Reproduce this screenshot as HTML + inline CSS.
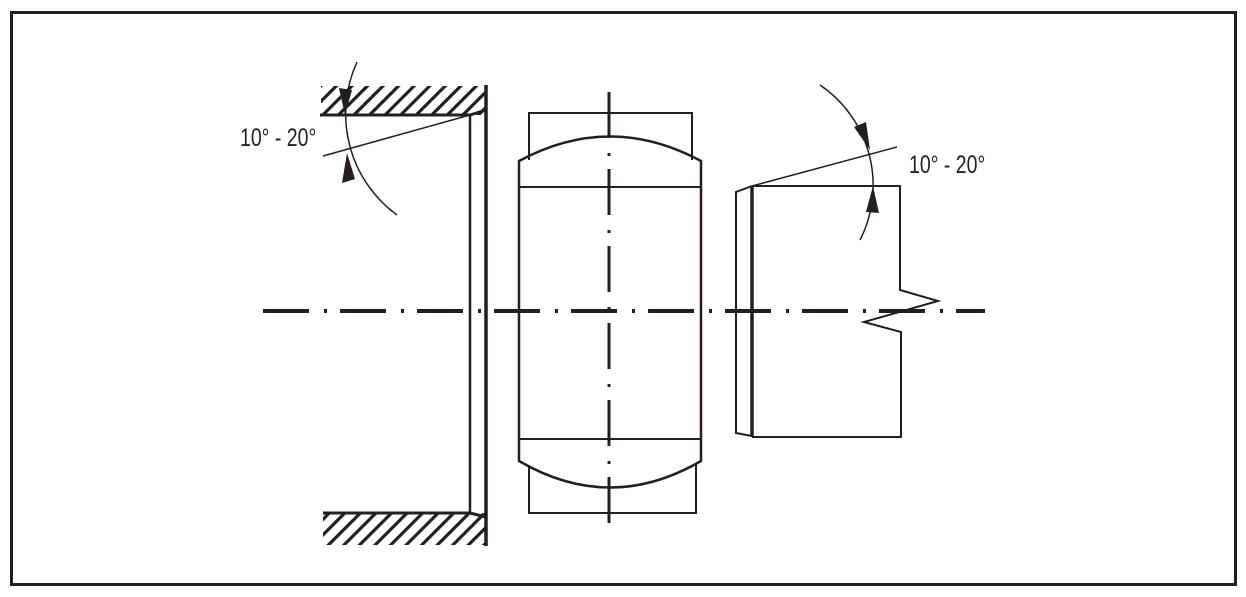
<!DOCTYPE html>
<html><head><meta charset="utf-8"><style>html,body{margin:0;padding:0;background:#fff}svg{display:block}</style></head>
<body>
<svg width="1246" height="597" viewBox="0 0 1246 597" xmlns="http://www.w3.org/2000/svg">
<defs>
<pattern id="h" width="11" height="11" patternUnits="userSpaceOnUse" patternTransform="rotate(45)">
<rect x="0" y="0" width="3.2" height="11" fill="#231f20"/>
</pattern>
</defs>
<rect x="11.5" y="12.5" width="1224" height="572" fill="none" stroke="#231f20" stroke-width="3"/>
<g stroke="#231f20" fill="none">
<rect x="321" y="86" width="165" height="29" fill="url(#h)" stroke="none"/>
<rect x="323" y="513" width="163" height="32" fill="url(#h)" stroke="none"/>
<path d="M320 115 H470 L486 110" stroke-width="3"/>
<path d="M323 513 H470 L486 517" stroke-width="3"/>
<line x1="486" y1="85" x2="486" y2="546" stroke-width="3.5"/>
<line x1="470" y1="115" x2="470" y2="513" stroke-width="2.5"/>
<path d="M529 160 V113 H692 V160" stroke-width="2"/>
<path d="M529 465 V513 H696 V465" stroke-width="2"/>
<path d="M519 161 Q610 112 701 161 V461 Q610 514 519 461 Z" stroke-width="2.5"/>
<line x1="519" y1="187" x2="701" y2="187" stroke-width="2"/>
<line x1="519" y1="439" x2="701" y2="439" stroke-width="2"/>
<path d="M752 186 L736 192 V433 L752 436" stroke-width="2"/>
<line x1="752" y1="186" x2="752" y2="437" stroke-width="3.5"/>
<path d="M752 186 H900 V290 L938 301 L864 322 L901 332 V437 H752" stroke-width="2"/>
<line x1="263" y1="311" x2="985" y2="311" stroke-width="4" stroke-dasharray="46 15 3 13"/>
<line x1="609" y1="92" x2="609" y2="532" stroke-width="3" stroke-dasharray="46 15 3 13"/>
<line x1="470" y1="115" x2="323" y2="156" stroke-width="1.5"/>
<line x1="752" y1="186" x2="897" y2="147" stroke-width="1.5"/>
<path d="M357 62 A125 125 0 0 0 397 215" stroke-width="1.5"/>
<path d="M820 85 A121 121 0 0 1 860 240" stroke-width="1.5"/>
</g>
<g fill="#231f20">
<polygon points="345,115 339,88 352,90"/>
<polygon points="347,153 342,183 355,179"/>
<polygon points="870,150 854,127 866,122"/>
<polygon points="873,186 866,212 879,213"/>
</g>
<g font-family="Liberation Sans, sans-serif" font-size="25" fill="#231f20">
<text transform="translate(240,146) scale(0.78,1)">10° - 20°</text>
<text transform="translate(909,173) scale(0.78,1)">10° - 20°</text>
</g>
</svg>
</body></html>
